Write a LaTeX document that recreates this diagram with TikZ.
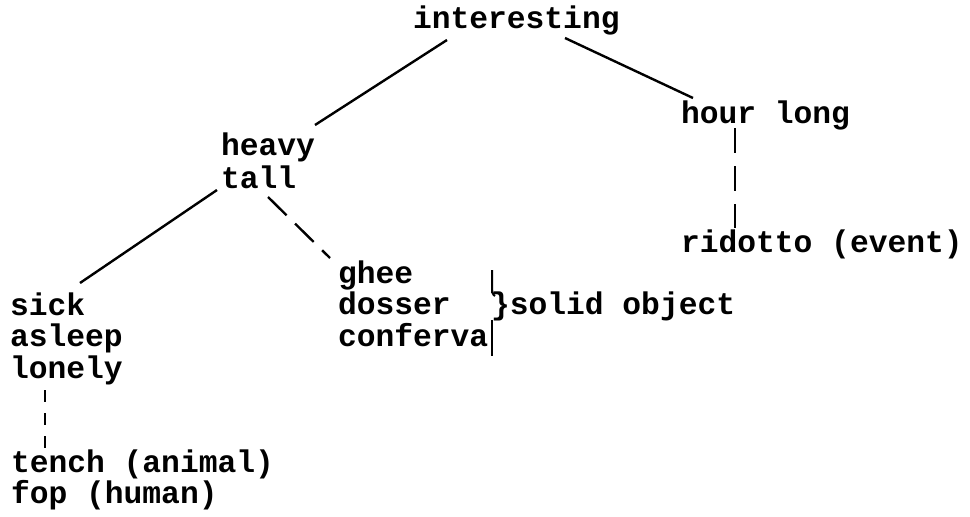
\documentclass[tikz,border=0pt]{standalone}
\usepackage{fontspec}
\newfontfamily\cour{Liberation Mono}
\usetikzlibrary{calc}
\newcommand\blk[2]{\fontsize{31.3}{#1}\selectfont\begin{tabular}[t]{@{}l@{}}#2\end{tabular}}
\tikzset{
  lbl/.style={anchor=base west, inner sep=0pt, outer sep=0pt, font=\cour\bfseries\fontsize{31.3}{30}\selectfont},
  solidlink/.style={line width=2.4pt},
  longdash/.style={line width=2.4pt, dash pattern=on 26pt off 12pt},
  shortdash/.style={line width=2.4pt, dash pattern=on 12pt off 11pt},
}
\begin{document}
\begin{tikzpicture}[x=1pt,y=-1pt]
\fill[white] (0,0) rectangle (970,517);
\useasboundingbox (0,0) rectangle (970,517);

\node[lbl] (int) at (413,28) {interesting};
\node[lbl] (hour) at (681,123) {hour long};
\node[lbl] (heavy) at (221,155) {\blk{33}{heavy\\tall}};
\node[lbl] (rid) at (681,252) {ridotto (event)};
\node[lbl] (ghee) at (338,283) {\blk{30}{ghee\\dosser\\conferva}};
\node[lbl] (solid) at (491,314) {\}solid object};
\node[lbl] (sick) at (10,315) {\blk{30}{sick\\asleep\\lonely}};
\node[lbl] (tench) at (11,472) {\blk{28}{tench (animal)\\fop (human)}};

% connectors
\draw[solidlink] ($(int.base west)+(34,12)$) -- ($(heavy.base west)+(94,-30)$);
\draw[solidlink] ($(int.base west)+(152,10)$) -- ($(hour.base west)+(12,-25)$);
\draw[solidlink] ($(heavy.base west)+(-4,35)$) -- ($(sick.base west)+(70,-32)$);
\draw[longdash] ($(heavy.base west)+(47,42)$) -- ($(ghee.base west)+(-8,-25)$);
\draw[longdash, dash pattern=on 25pt off 13pt] ($(hour.base west)+(54,5)$) -- ($(rid.base west)+(54,-24)$);
\draw[shortdash] ($(sick.base west)+(35,75)$) -- ($(tench.base west)+(34,-19)$);

% brace strokes
\draw[line width=2pt] ($(solid.base west)+(1,-44)$) -- ($(solid.base west)+(1,-24)$) to[out=90,in=180] ($(solid.base west)+(4,-18)$);
\draw[line width=2pt] ($(solid.base west)+(1,6)$) -- ($(solid.base west)+(1,42)$);
\end{tikzpicture}
\end{document}
